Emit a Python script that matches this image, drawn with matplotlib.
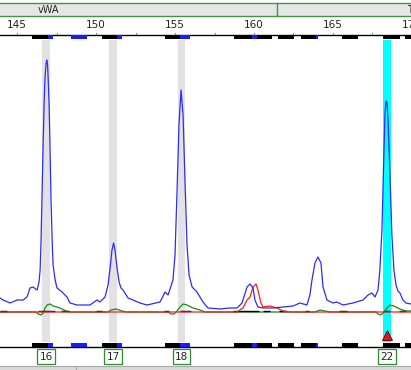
import numpy as np
import matplotlib
matplotlib.use("Agg")
import matplotlib.pyplot as plt
from matplotlib.patches import Rectangle
import matplotlib.transforms as mtransforms

# ---------------- data ----------------
locus_name = "vWA"
next_locus = "T"
scale_ticks = [145, 150, 155, 160, 165, 170]
x_range = (143.92, 169.94)

blue_bp = [143.92, 144.11, 144.56, 145.00, 145.38, 145.63, 145.82, 146.01, 146.27, 146.39,
           146.46, 146.52, 146.58, 146.65, 146.71, 146.77, 146.84, 146.88, 146.93, 146.96,
           147.03, 147.09, 147.15, 147.22, 147.28, 147.41, 147.53, 147.85, 148.16, 148.35,
           148.80, 149.62, 150.06, 150.25, 150.57, 150.76, 150.89, 151.01, 151.11, 151.20,
           151.33, 151.46, 151.58, 151.71, 152.03, 152.34, 152.78, 153.23, 154.05, 154.37,
           154.56, 154.87, 155.00, 155.13, 155.25, 155.38, 155.51, 155.63, 155.76, 155.89,
           156.08, 156.39, 156.77, 157.09, 157.85, 158.48, 158.92, 159.24, 159.56, 159.75,
           159.94, 160.06, 160.25, 160.57, 161.20, 161.84, 162.47, 162.91, 163.35, 163.54,
           163.67, 163.86, 164.05, 164.24, 164.37, 164.62, 165.00, 165.25, 165.63, 166.27,
           166.90, 167.22, 167.47, 167.66, 167.85, 167.97, 168.10, 168.23, 168.29, 168.35,
           168.42, 168.48, 168.61, 168.73, 168.86, 168.99, 169.11, 169.24, 169.43, 169.62,
           169.94]
blue_rfu = [140, 120, 90, 120, 120, 150, 240, 250, 220, 300,
            420, 720, 1170, 1670, 2070, 2340, 2490, 2520, 2480, 2370,
            2070, 1620, 1120, 720, 470, 320, 240, 200, 150, 90,
            70, 70, 120, 100, 150, 270, 440, 620, 690, 620,
            440, 300, 240, 220, 140, 120, 90, 70, 100, 200,
            170, 320, 570, 1220, 1870, 2220, 1970, 1320, 670, 370,
            250, 200, 100, 40, 30, 40, 40, 90, 250, 280,
            240, 120, 50, 40, 40, 50, 60, 90, 70, 170,
            320, 490, 550, 490, 250, 120, 90, 100, 70, 90,
            120, 170, 190, 150, 220, 420, 820, 1620, 1970, 2110,
            2090, 1940, 1370, 770, 420, 270, 210, 190, 120, 90,
            80]

red_bp = [143.92, 158.92, 159.30, 159.56, 159.75, 159.94, 160.13, 160.25, 160.44, 160.57,
          161.01, 161.46, 161.84, 162.28, 169.94]
red_rfu = [0, 0, 40, 120, 150, 250, 280, 220, 90, 50,
           60, 40, 10, 0, 0]

green_bp = [143.92, 146.20, 146.33, 146.52, 146.65, 146.77, 146.90, 147.09, 147.28, 147.53,
            147.85, 148.10, 148.35, 150.76, 150.95, 151.27, 151.65, 151.90, 154.56, 154.75,
            154.94, 155.13, 155.32, 155.51, 155.76, 156.14, 156.58, 156.90, 163.86, 164.18,
            164.49, 164.81, 167.72, 167.85, 168.04, 168.23, 168.42, 168.61, 168.86, 169.24,
            169.62, 169.94]
green_rfu = [0, 0, -20, -30, -10, 40, 70, 80, 60, 50,
             30, 10, 0, 0, 20, 30, 10, 0, 0, -20,
             -20, 10, 50, 80, 70, 40, 20, 0, 0, 20,
             10, 0, 0, -20, -30, 0, 40, 70, 60, 30,
             10, 10]

black_segments = [(143.92, 144.35), (146.30, 147.40), (147.80, 148.30), (150.00, 150.40),
                  (154.30, 154.60), (155.30, 156.00), (158.70, 160.30), (160.60, 161.00),
                  (161.60, 162.10), (163.20, 163.50), (165.40, 165.90), (168.20, 168.60),
                  (169.20, 169.60)]

allele_labels = ["16", "17", "18", "22"]
allele_bins = [(146.58, 147.09), (150.82, 151.33), (155.19, 155.63), (168.16, 168.67)]
allele_called = [False, False, False, True]
allele_mark_bp = 168.42
allele_mark_rfu = -230

# marker bars (start, end, colour key)
bar_segments = [(145.95, 146.96, "k"), (146.96, 147.28, "b"), (148.42, 149.43, "b"),
                (150.38, 151.33, "k"), (151.33, 151.65, "b"), (154.37, 155.32, "k"),
                (155.32, 155.95, "b"), (158.73, 159.87, "k"), (159.87, 160.19, "b"),
                (160.19, 161.14, "k"), (161.52, 162.53, "k"), (162.97, 163.92, "k"),
                (163.92, 164.05, "b"), (165.57, 166.58, "k"), (168.16, 169.24, "k"),
                (169.56, 169.94, "k")]
divider_bp = 161.46

# ---------------- figure ----------------
W, H = 411, 370
fig = plt.figure(figsize=(W / 100, H / 100), dpi=100)
fig.patch.set_facecolor("white")
plt.rcParams['font.family'] = ['DejaVu Sans']

top_px, bot_px = 35, 347
ax = fig.add_axes([0, (H - bot_px) / H, 1, (bot_px - top_px) / H])
ax.set_xlim(*x_range)
ax.set_ylim(-350, 2770)
ax.axis("off")
trans = mtransforms.blended_transform_factory(ax.transData, ax.transAxes)
plot_h = bot_px - top_px

# bins
for (a, b), called in zip(allele_bins, allele_called):
    ax.axvspan(a, b, ymin=5 / plot_h, ymax=1 - 5 / plot_h,
               color="#00ffff" if called else "#e4e1e4", lw=0, zorder=1)

# traces
ax.plot(green_bp, green_rfu, color="#168a16", lw=0.9, zorder=3)
for a, b in black_segments:
    ax.plot([a, b], [8, 8], color="black", lw=1.0, zorder=3.5, solid_capstyle="butt")
ax.plot(red_bp, red_rfu, color="#ff1a1a", lw=0.9, zorder=4)
ax.plot(blue_bp, blue_rfu, color="#2b2bff", lw=0.9, zorder=5)

# axis lines
ax.plot([0, 1], [1, 1], transform=ax.transAxes, color="black", lw=1.0, clip_on=False, zorder=6)
ax.plot([0, 1], [0, 0], transform=ax.transAxes, color="black", lw=1.0, clip_on=False, zorder=6)

# marker bars top and bottom
colmap = {"k": "black", "b": "#1a1aff"}
bh = 4.5 / plot_h
for a, b, c in bar_segments:
    for y0 in (1 - bh, 0):
        ax.add_patch(Rectangle((a, y0), b - a, bh, transform=trans, fc=colmap[c],
                               ec="none", zorder=6, clip_on=False))

# allele marker triangle
ax.plot([allele_mark_bp], [allele_mark_rfu], marker="^", ms=7, color="#ee1111",
        mec="#550000", mew=0.6, zorder=7)

# allele label boxes
for (a, b), lab in zip(allele_bins, allele_labels):
    ax.text((a + b) / 2, -(356.5 - bot_px) / plot_h, lab, transform=trans,
            ha="center", va="center", fontsize=7.5, color="#222222", clip_on=False,
            bbox=dict(boxstyle="square,pad=0.22", fc="white", ec="#2e8b2e", lw=0.9))

# header / scale axes
axt = fig.add_axes([0, (H - top_px) / H, 1, top_px / H])
axt.set_xlim(*x_range)
axt.set_ylim(top_px, 0)
axt.axis("off")
axt.add_patch(Rectangle((x_range[0] - 1, 3), x_range[1] - x_range[0] + 2, 13,
                        fc="#e6e6e6", ec="#3a9a3a", lw=1.0, clip_on=True))
axt.plot([divider_bp, divider_bp], [3, 16], color="#3a9a3a", lw=1.0)
axt.text(146.99, 9.7, locus_name, ha="center", va="center", fontsize=7, color="#222222")
axt.text(169.68, 9.7, next_locus, ha="left", va="center", fontsize=7, color="#222222",
         clip_on=True)
for t in scale_ticks:
    axt.text(t, 25, str(t), ha="center", va="center", fontsize=7.5, color="#222222",
             clip_on=True)
for t in np.arange(scale_ticks[0], scale_ticks[-1] + 0.1, 2.5):
    axt.plot([t, t], [32.5, 35], color="#888888", lw=0.8)

# bottom status strip
fig.patches.append(Rectangle((0, 0), 1, 4 / H, transform=fig.transFigure,
                             fc="#d9d9d9", ec="none"))
fig.lines.append(plt.Line2D([0, 1], [4 / H, 4 / H], transform=fig.transFigure,
                            color="#a8a8a8", lw=0.8))
fig.lines.append(plt.Line2D([76 / W, 76 / W], [0, 4 / H], transform=fig.transFigure,
                            color="#a8a8a8", lw=0.8))

fig.savefig("out.png", dpi=100)
